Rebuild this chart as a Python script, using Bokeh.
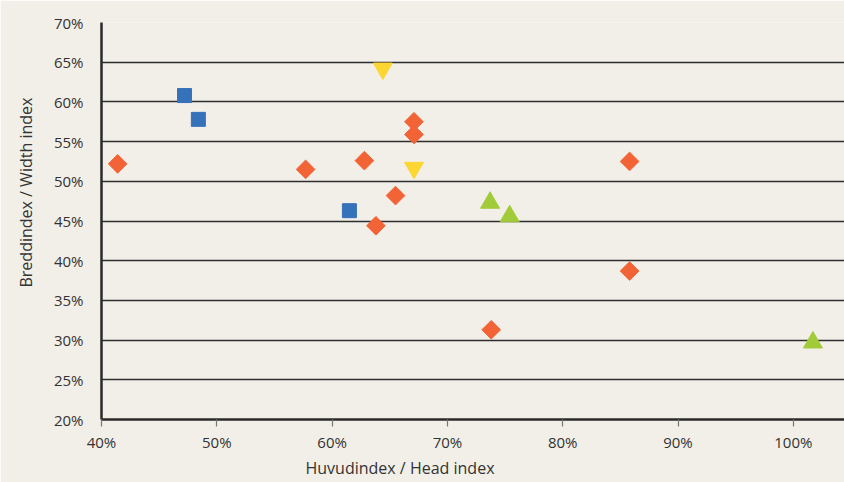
import math
from bokeh.plotting import figure
from bokeh.models import Range1d, NumeralTickFormatter, FixedTicker, Title
from bokeh.embed import file_html
from bokeh.resources import INLINE

# --- data (fractions) ---
blue_x = [0.472, 0.484, 0.615]
blue_y = [0.608, 0.578, 0.463]

orange_x = [0.414, 0.577, 0.628, 0.655, 0.638, 0.671, 0.671, 0.858, 0.858, 0.738]
orange_y = [0.522, 0.515, 0.526, 0.482, 0.444, 0.575, 0.559, 0.525, 0.387, 0.313]

yellow_x = [0.644, 0.671]
yellow_y = [0.642, 0.517]

green_x = [0.737, 0.754, 1.017]
green_y = [0.473, 0.456, 0.297]

x_ticks = [0.4, 0.5, 0.6, 0.7, 0.8, 0.9, 1.0]
y_ticks = [0.20, 0.25, 0.30, 0.35, 0.40, 0.45, 0.50, 0.55, 0.60, 0.65, 0.70]

x_title = "Huvudindex / Head index"
y_title = "Breddindex / Width index"

BG = "#f2efe8"
FONT = "Open Sans"

p = figure(width=844, height=482, output_backend="svg", toolbar_location=None,
           x_range=Range1d(0.40, 1.0444), y_range=Range1d(0.20, 0.70),
           min_border_left=101, min_border_right=0, min_border_top=22, min_border_bottom=63)
p.background_fill_color = BG
p.border_fill_color = BG
p.outline_line_color = None

p.xgrid.grid_line_color = None
p.ygrid.ticker = FixedTicker(ticks=y_ticks)
p.ygrid.grid_line_color = "#2e2e2e"
p.ygrid.grid_line_width = 1.3

p.xaxis.ticker = FixedTicker(ticks=x_ticks)
p.yaxis.ticker = FixedTicker(ticks=y_ticks)
for ax in (p.xaxis, p.yaxis):
    ax.formatter = NumeralTickFormatter(format="0%")
    ax.axis_line_color = "#2a2a2a"
    ax.axis_line_width = 2.5
    ax.minor_tick_line_color = None
    ax.major_label_text_font = FONT
    ax.major_label_text_font_size = "15px"
    ax.major_label_text_color = "#333333"
p.yaxis.major_tick_line_color = None
p.yaxis.major_label_standoff = 12
p.xaxis.major_tick_line_color = "#777777"
p.xaxis.major_tick_line_width = 1.2
p.xaxis.major_tick_out = 7
p.xaxis.major_tick_in = 0
p.xaxis.major_label_standoff = 5

p.scatter(blue_x, blue_y, marker="square", size=14, color="#3572b9")
p.scatter(orange_x, orange_y, marker="square", size=13.2, angle=math.pi / 4, color="#f26336")
p.scatter(yellow_x, yellow_y, marker="inverted_triangle", size=19, color="#fed631")
p.scatter(green_x, green_y, marker="triangle", size=19, color="#a2cb3a")

xt = Title(text=x_title, align="left", offset=204, standoff=0, vertical_align="bottom",
           text_font=FONT, text_font_size="16px", text_font_style="normal", text_color="#333333")
p.add_layout(xt, "below")
yt = Title(text=y_title, align="left", offset=132, standoff=24, vertical_align="top",
           text_font=FONT, text_font_size="16px", text_font_style="normal", text_color="#333333")
p.add_layout(yt, "left")

open("out.html", "w").write(file_html(p, INLINE))
